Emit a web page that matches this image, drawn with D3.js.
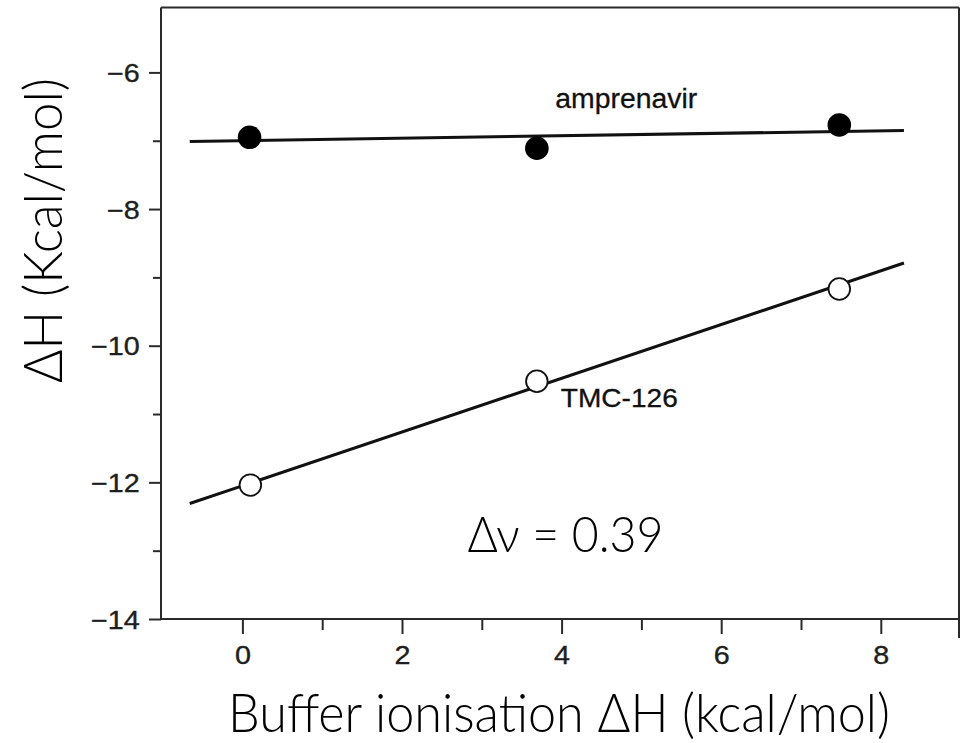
<!DOCTYPE html>
<html>
<head>
<meta charset="utf-8">
<script src="https://cdn.jsdelivr.net/npm/d3@7"></script>
<style>
  html, body { margin: 0; padding: 0; background: #fff; }
  svg { display: block; }
</style>
</head>
<body>
<div id="chart"></div>
<script>
// ---- data ----
const ampX = [0.09, 3.69, 7.48];
const ampY = [-6.95, -7.11, -6.77];
const tmcX = [0.10, 3.69, 7.48];
const tmcY = [-12.04, -10.52, -9.17];
const ampFitX = [-0.66, 8.29];
const ampFitY = [-7.01, -6.85];
const tmcFitX = [-0.66, 8.29];
const tmcFitY = [-12.31, -8.79];
const xMajorTicks = [0, 2, 4, 6, 8];
const xMinorTicks = [1, 3, 5, 7];
const yMajorTicks = [-14, -12, -10, -8, -6];
const yMinorTicks = [-13, -11, -9, -7];
const ampLabel = "amprenavir";
const tmcLabel = "TMC-126";
const slopeLabel = "Δν = 0.39";
const xTitle = "Buffer ionisation ΔH (kcal/mol)";
const yTitle = "ΔH (Kcal/mol)";

// ---- layout ----
const W = 965, H = 743;
const L = 161, R = 959, T = 7.5, B = 619;
const svg = d3.select("#chart").append("svg").attr("width", W).attr("height", H);
svg.append("rect").attr("width", W).attr("height", H).attr("fill", "#fff");

const x = d3.scaleLinear().domain([-1.02, 8.98]).range([L, R]);
const y = d3.scaleLinear().domain([-14, -5.05]).range([B, T]);

const axisColor = "#2a2a2a";
const tickFont = "'Liberation Sans', Arial, Helvetica, sans-serif";
const handFont = "Lato, 'Open Sans', sans-serif";

// frame (top & right)
svg.append("line").attr("x1", L).attr("x2", R).attr("y1", T).attr("y2", T)
  .attr("stroke", axisColor).attr("stroke-width", 2);
svg.append("line").attr("x1", R).attr("x2", R).attr("y1", T).attr("y2", B + 19)
  .attr("stroke", axisColor).attr("stroke-width", 2);

// bottom axis
const gx = svg.append("g").attr("transform", `translate(0,${B})`)
  .call(d3.axisBottom(x).tickValues(xMajorTicks).tickSize(15).tickSizeOuter(0).tickPadding(12).tickFormat(d3.format("d")));
const gxm = svg.append("g").attr("transform", `translate(0,${B})`)
  .call(d3.axisBottom(x).tickValues(xMinorTicks).tickSize(11).tickSizeOuter(0).tickFormat(""));
// left axis
const gy = svg.append("g").attr("transform", `translate(${L},0)`)
  .call(d3.axisLeft(y).tickValues(yMajorTicks).tickSize(12).tickSizeOuter(0).tickPadding(8)
    .tickFormat(d => (d < 0 ? "\u2212" : "") + Math.abs(d)));
const gym = svg.append("g").attr("transform", `translate(${L},0)`)
  .call(d3.axisLeft(y).tickValues(yMinorTicks).tickSize(8).tickSizeOuter(0).tickFormat(""));

[gx, gxm, gy, gym].forEach(g => {
  g.attr("font-size", null).attr("font-family", null);
  g.selectAll(".domain").attr("stroke", axisColor).attr("stroke-width", 2);
  g.selectAll(".tick line").attr("stroke", axisColor).attr("stroke-width", 2);
});
gx.selectAll(".domain").attr("d", `M${L},0H${R}`);
gy.selectAll(".domain").attr("d", `M0,${B}V${T}`);
gym.selectAll(".domain").remove();
gxm.selectAll(".domain").remove();

gx.selectAll(".tick text")
  .style("font-family", tickFont).style("font-size", "25px")
  .attr("fill", "#1e1e1e").attr("stroke", "#1e1e1e").attr("stroke-width", 0.35)
  .attr("y", 27).attr("dy", "0.71em").attr("x", 0)
  .attr("transform", "scale(1.15,1)");
gy.selectAll(".tick text")
  .style("font-family", tickFont).style("font-size", "25px")
  .attr("fill", "#1e1e1e").attr("stroke", "#1e1e1e").attr("stroke-width", 0.35)
  .attr("x", -18.5).attr("dy", "0.36em")
  .attr("transform", "scale(1.15,1)");

// fit lines
const line = d3.line().x(d => x(d[0])).y(d => y(d[1]));
const ampFit = ampFitX.map((v, i) => [v, ampFitY[i]]);
const tmcFit = tmcFitX.map((v, i) => [v, tmcFitY[i]]);
[ampFit, tmcFit].forEach(pts => {
  svg.append("path").attr("d", line(pts)).attr("fill", "none")
    .attr("stroke", "#111").attr("stroke-width", 3);
});

// points
const amp = ampX.map((v, i) => ({x: v, y: ampY[i]}));
const tmc = tmcX.map((v, i) => ({x: v, y: tmcY[i]}));
svg.append("g").selectAll("circle").data(amp).join("circle")
  .attr("cx", d => x(d.x)).attr("cy", d => y(d.y)).attr("r", 11.8)
  .attr("fill", "#000");
svg.append("g").selectAll("circle").data(tmc).join("circle")
  .attr("cx", d => x(d.x)).attr("cy", d => y(d.y)).attr("r", 10.8)
  .attr("fill", "#fff").attr("stroke", "#111").attr("stroke-width", 1.8);

// series labels
svg.append("text").attr("x", x(3.92)).attr("y", y(-6.525))
  .attr("font-family", tickFont).attr("font-size", 27).attr("fill", "#111")
  .attr("stroke", "#111").attr("stroke-width", 0.3)
  .attr("textLength", 142).attr("lengthAdjust", "spacingAndGlyphs")
  .text(ampLabel);
svg.append("text").attr("x", x(3.99)).attr("y", y(-10.9))
  .attr("font-family", tickFont).attr("font-size", 26.5).attr("fill", "#111")
  .attr("stroke", "#111").attr("stroke-width", 0.3)
  .attr("textLength", 117).attr("lengthAdjust", "spacingAndGlyphs")
  .text(tmcLabel);

// handwritten-style annotation
svg.append("text").attr("x", x(2.82)).attr("y", y(-13.02))
  .attr("font-family", handFont).attr("font-weight", 300).attr("font-size", 50)
  .attr("fill", "#000")
  .attr("textLength", 196).attr("lengthAdjust", "spacingAndGlyphs")
  .text(slopeLabel);

// axis titles
svg.append("text").attr("x", 228).attr("y", 732)
  .attr("font-family", handFont).attr("font-weight", 300).attr("font-size", 54)
  .attr("fill", "#000")
  .attr("textLength", 662).attr("lengthAdjust", "spacingAndGlyphs")
  .text(xTitle);
svg.append("text").attr("transform", "translate(62,383) rotate(-90)")
  .attr("x", 0).attr("y", 0)
  .attr("font-family", handFont).attr("font-weight", 300).attr("font-size", 54)
  .attr("fill", "#000")
  .attr("textLength", 305).attr("lengthAdjust", "spacingAndGlyphs")
  .text(yTitle);
</script>
</body>
</html>
